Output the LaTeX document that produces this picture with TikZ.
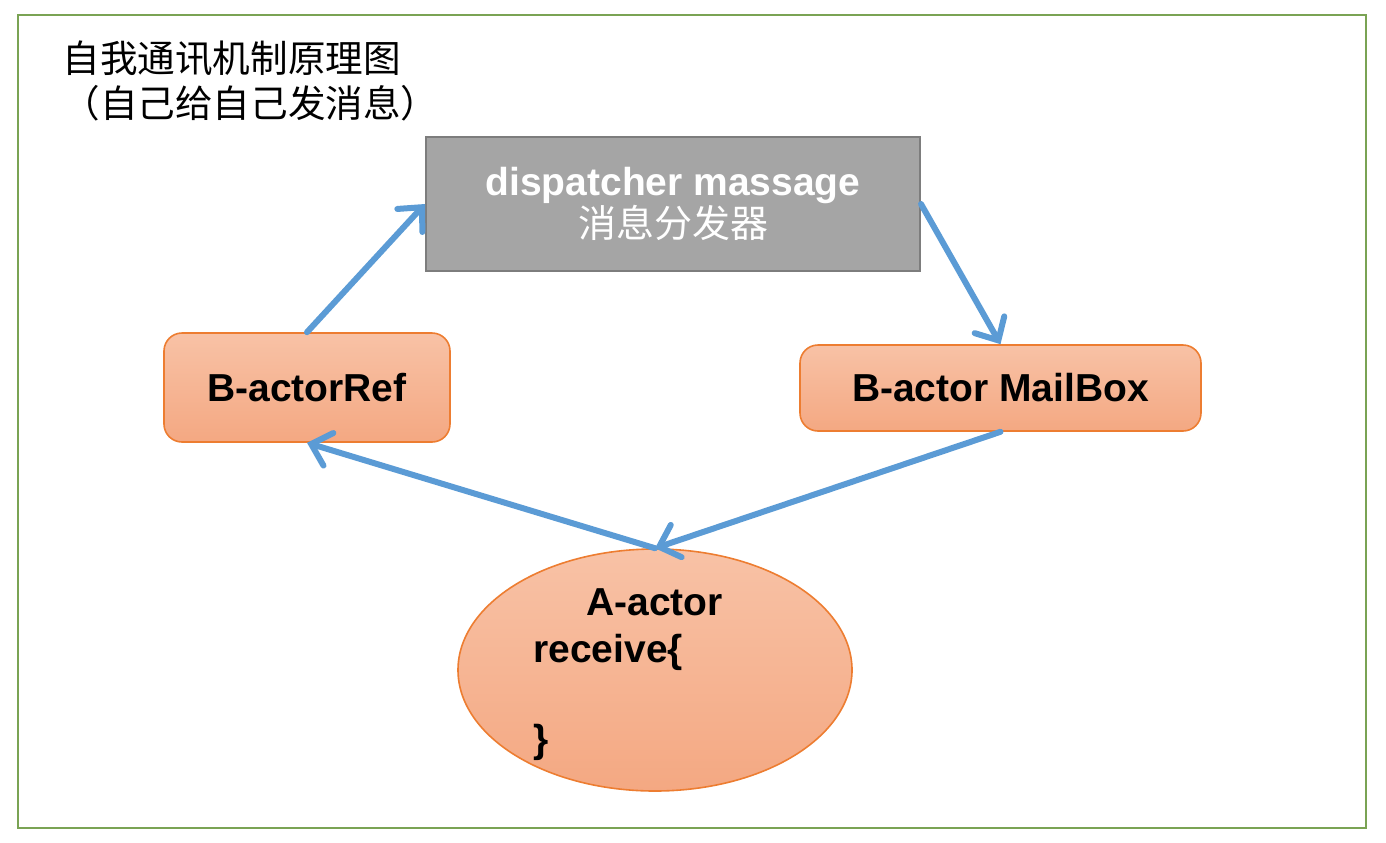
\documentclass[tikz,border=0pt]{standalone}
\usepackage{fontspec}
\setmainfont{Liberation Sans}
\newfontfamily\cjk{Noto Sans CJK SC}
\usepackage{tikz}
\usetikzlibrary{arrows.meta, positioning, shapes.geometric}
\definecolor{framegreen}{RGB}{122,163,84}
\definecolor{dispgray}{RGB}{165,165,165}
\definecolor{dispedge}{RGB}{125,125,125}
\definecolor{actoredge}{RGB}{237,125,49}
\definecolor{actortop}{RGB}{248,194,166}
\definecolor{actorbot}{RGB}{244,168,130}
\definecolor{flowblue}{RGB}{91,155,213}

\begin{document}
\begin{tikzpicture}[x=0.5pt, y=-0.5pt,
                bigfont/.style={font=\fontsize{19.5}{22.5}\selectfont\bfseries},
                titletxt/.style={font=\cjk\fontsize{18.8}{22.5}\selectfont, inner sep=0pt, anchor=base west},
                dispbox/.style={
                  draw=dispedge, line width=1pt, fill=dispgray, text=white,
                  minimum width=247pt, minimum height=67pt, align=center
                },
                actorbox/.style={
                  draw=actoredge, line width=0.8pt, rounded corners=9pt,
                  top color=actortop, bottom color=actorbot, bigfont
                },
                codetxt/.style={bigfont, inner sep=0pt, anchor=base west},
                flow/.style={
                  draw=flowblue, line width=3pt, line cap=round,
                  -{Straight Barb[length=9pt, width=17pt, line cap=round]}
                }
              ]
              \useasboundingbox (0,0) rectangle (1386,842);
              % frame
              \draw[framegreen, line width=1pt] (18,15) rectangle (1366,828);
              % title
              \node[titletxt] (title) at (62,72) {自我通讯机制原理图};
              \node[titletxt] (subtitle) at (62,117) {（自己给自己发消息）};
              % boxes
              \node[dispbox] (disp) at (673,204)
                {{\fontsize{19.5}{24}\selectfont\bfseries dispatcher massage}\\
                 {\cjk\fontsize{19}{24}\selectfont 消息分发器}};
              \node[actorbox, minimum width=143pt, minimum height=54.5pt] (bref) at (307,387.5) {B-actorRef};
              \node[actorbox, minimum width=200.5pt, minimum height=43pt] (mbox) at (1000.5,388) {B-actor MailBox};
              \node[ellipse, draw=actoredge, line width=0.8pt, top color=actortop, bottom color=actorbot,
                    minimum width=197pt, minimum height=121pt] (aactor) at (655,670) {};
              \node[codetxt] (aname) at (586,615) {A-actor};
              \node[codetxt] (recv) at (533,662) {receive\{};
              \node[codetxt] (rbrace) at (533,752) {\}};
              % flow
              \draw[flow] (bref.north) -- (disp.west);
              \draw[flow] (disp.east) -- (mbox.north);
              \draw[flow] (mbox.south) -- (aactor.north);
              \draw[flow] (aactor.north) -- (bref.south);
\end{tikzpicture}
\end{document}
